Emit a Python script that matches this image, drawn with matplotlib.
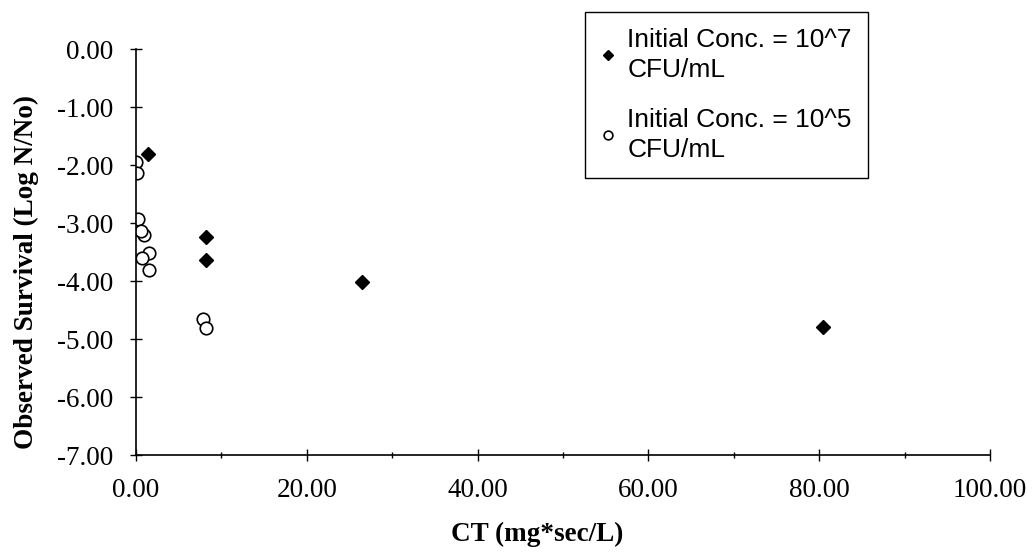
import numpy as np
import matplotlib
matplotlib.use("Agg")
import matplotlib.pyplot as plt
from matplotlib.ticker import MultipleLocator, FormatStrFormatter

# data
ct_1e7 = [1.4, 8.2, 8.2, 26.5, 80.4]
surv_1e7 = [-1.81, -3.24, -3.64, -4.02, -4.79]

ct_1e5 = [0.0, 0.1, 0.2, 0.9, 0.6, 1.5, 0.7, 1.5, 7.9, 8.2]
surv_1e5 = [-1.95, -2.14, -2.93, -3.20, -3.14, -3.52, -3.60, -3.81, -4.66, -4.81]

label_1e7 = "Initial Conc. = 10^7\nCFU/mL"
label_1e5 = "Initial Conc. = 10^5\nCFU/mL"

plt.rcParams['axes.unicode_minus'] = False
serif = "Liberation Serif"
sans = "Liberation Sans"

fig = plt.figure(figsize=(10.34, 5.57), dpi=100)
ax = fig.add_axes([0.1315, 0.183, 0.826, 0.729])

ax.plot(ct_1e7, surv_1e7, linestyle='none', marker='D', markersize=7,
        markerfacecolor='black', markeredgecolor='black', label=label_1e7)
ax.plot(ct_1e5, surv_1e5, linestyle='none', marker='o', markersize=9,
        markerfacecolor='white', markeredgecolor='black', markeredgewidth=1.2,
        label=label_1e5)

ax.set_xlim(0, 100)
ax.set_ylim(-7, 0)
ax.spines['top'].set_visible(False)
ax.spines['right'].set_visible(False)
for s in ('left', 'bottom'):
    ax.spines[s].set_linewidth(1.2)

ax.xaxis.set_major_locator(MultipleLocator(20))
ax.xaxis.set_minor_locator(MultipleLocator(10))
ax.yaxis.set_major_locator(MultipleLocator(1))
ax.xaxis.set_major_formatter(FormatStrFormatter('%.2f'))
ax.yaxis.set_major_formatter(FormatStrFormatter('%.2f'))
ax.tick_params(axis='both', which='major', direction='inout', length=9, width=1,
               labelsize=19.5, pad=12)
ax.tick_params(axis='x', which='minor', direction='inout', length=5, width=1)
for lab in ax.get_xticklabels() + ax.get_yticklabels():
    lab.set_fontfamily(serif)

ax.set_xlabel("CT (mg*sec/L)", fontsize=19.5, fontweight='bold', family=serif)
ax.xaxis.set_label_coords(0.47, -0.165)
ax.set_ylabel("Observed Survival (Log N/No)", fontsize=19.5, fontweight='bold', family=serif)
ax.yaxis.set_label_coords(-0.113, 0.45)

leg = fig.legend(loc='upper left', bbox_to_anchor=(0.566, 0.978), frameon=True,
                 fancybox=False, edgecolor='black', framealpha=1, borderpad=0.6,
                 labelspacing=1.0, handlelength=0.5, handletextpad=0.5,
                 prop={'family': sans, 'size': 19}, borderaxespad=0, markerscale=0.7)
leg.get_frame().set_linewidth(1.0)
for t in leg.get_texts():
    t.set_linespacing(1.3)

fig.savefig("out.png", dpi=100)
